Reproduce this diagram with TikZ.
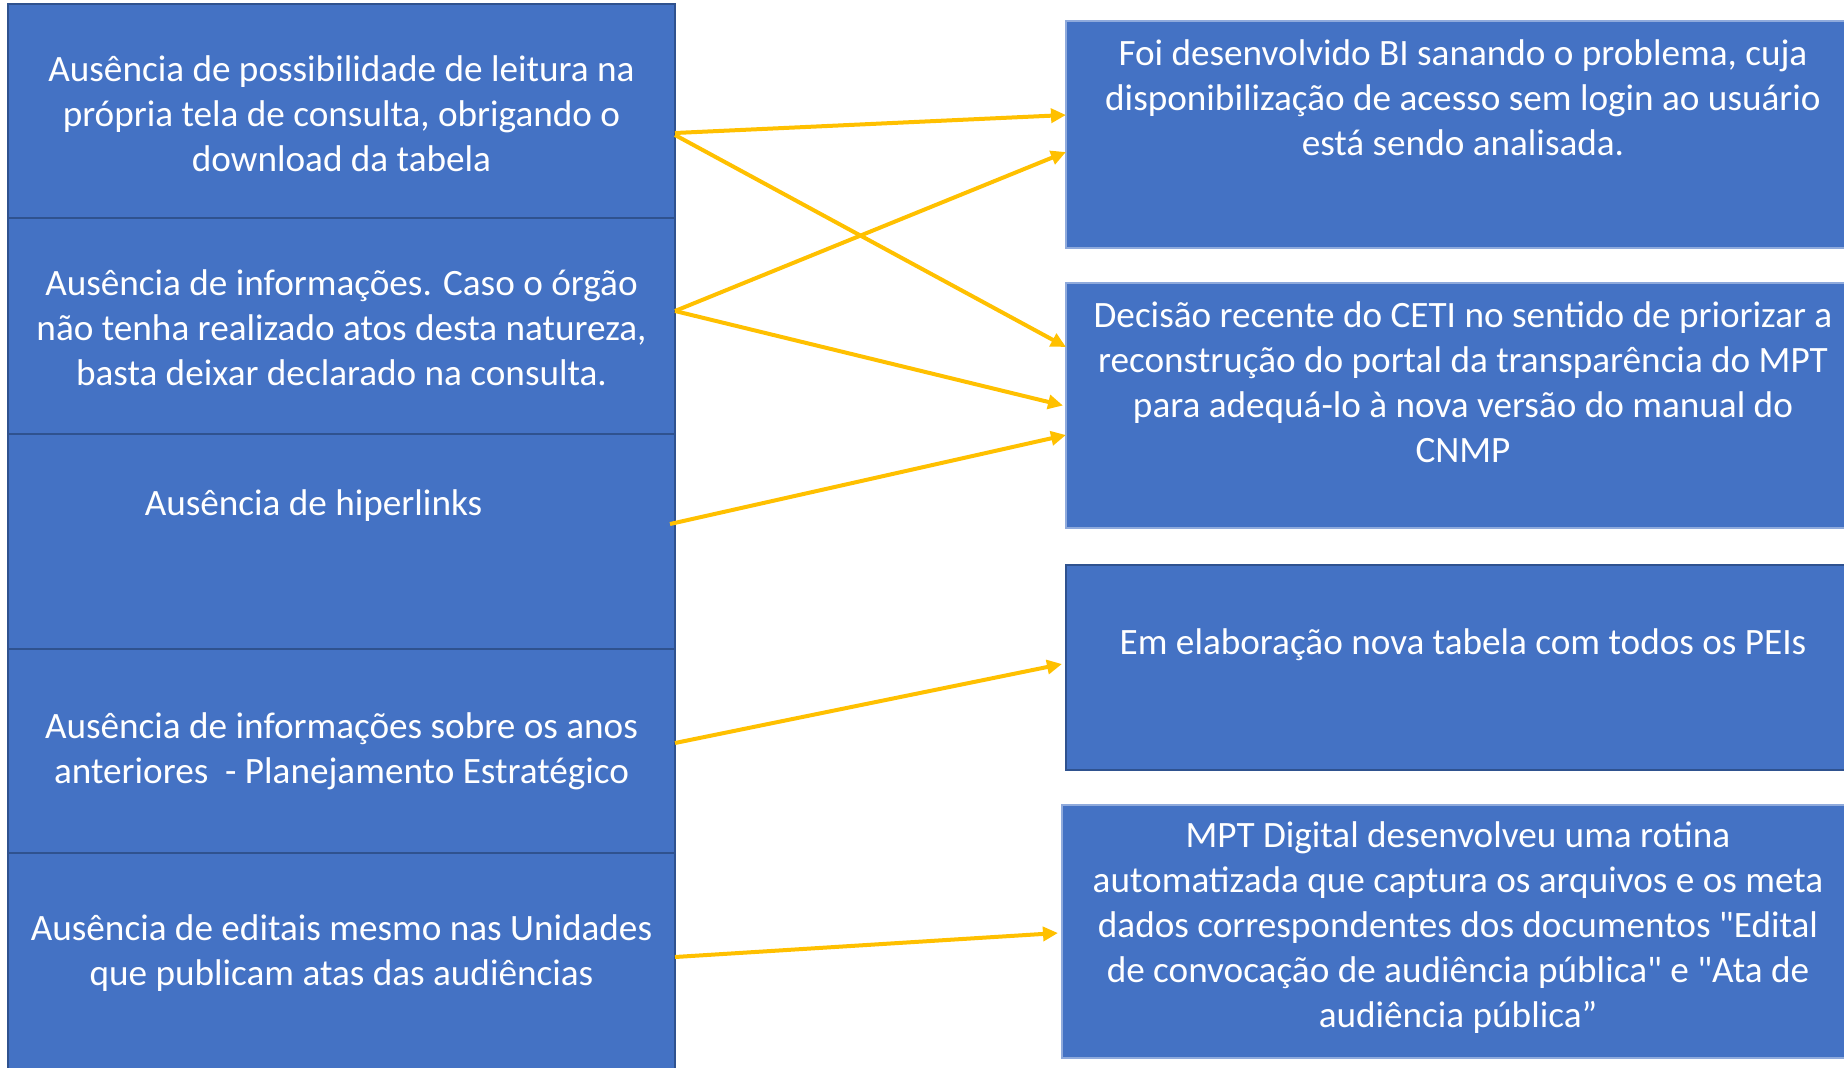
\documentclass[tikz,border=0pt]{standalone}
\usepackage{fontspec}
\setmainfont{Carlito}[Ligatures=TeXOff]
\usetikzlibrary{arrows.meta, positioning}
\definecolor{boxblue}{HTML}{4472C4}
\definecolor{borderblue}{HTML}{2F528F}
\definecolor{lightborder}{HTML}{8FAADC}
\definecolor{arrowyellow}{HTML}{FFC000}

\begin{document}
\begin{tikzpicture}[
    x=0.5pt, y=-0.5pt,
    every node/.style={font=\fontsize{18.6}{22.5}\selectfont},
    problem/.style={rectangle, draw=borderblue, line width=1.2pt, fill=boxblue,
                    minimum width=333.5pt, inner sep=0pt, outer sep=0pt},
    action/.style={rectangle, draw=lightborder, line width=0.6pt, fill=boxblue,
                   minimum width=392pt, inner sep=0pt, outer sep=0pt},
    boxtext/.style={text=white, align=center, inner sep=0pt},
    arrow/.style={-{Triangle[length=7.5pt, width=7pt]}, line width=2pt, draw=arrowyellow}
]

\useasboundingbox (0,0) rectangle (1844,1067);

% Problems (left column)
\node (p1) [problem, minimum height=107pt] at (341.5,111) {};
\node (p2) [problem, minimum height=108pt, below=0pt of p1] {};
\node (p3) [problem, minimum height=107.5pt, below=0pt of p2] {};
\node (p4) [problem, minimum height=102pt, below=0pt of p3] {};
\node (p5) [problem, minimum height=111pt, below=0pt of p4] {};

\node (t1) [boxtext] at ([yshift=-1.5pt]p1.center)
    {Ausência de possibilidade de leitura na\\própria tela de consulta, obrigando o\\download da tabela};
\node (t2) [boxtext] at ([yshift=-1pt]p2.center)
    {Ausência de informações. Caso o órgão\\não tenha realizado atos desta natureza,\\basta deixar declarado na consulta.};
\node (t3) [boxtext] at ([xshift=-14pt, yshift=18pt]p3.center) {Ausência de hiperlinks};
\node (t4) [boxtext] at ([yshift=0pt]p4.center)
    {Ausência de informações sobre os anos\\anteriores~ - Planejamento Estratégico};
\node (t5) [boxtext] at ([yshift=5.5pt]p5.center)
    {Ausência de editais mesmo nas Unidades\\que publicam atas das audiências};

% Actions (right column)
\node (s1) [action, minimum height=113.5pt] at (1458,134.5) {};
\node (s2) [action, minimum height=122.5pt, below=17.5pt of s1] {};
\node (s3) [action, draw=borderblue, line width=1.2pt, minimum height=102.5pt, below=18.5pt of s2] {};
\node (s4) [action, minimum width=394pt, minimum height=126.5pt, below=17.5pt of s3, xshift=-1pt] {};

\node (u1) [boxtext] at ([xshift=2.5pt, yshift=18.5pt]s1.center)
    {Foi desenvolvido BI sanando o problema, cuja\\disponibilização de acesso sem login ao usuário\\está sendo analisada.};
\node (u2) [boxtext] at ([xshift=2.5pt, yshift=11.5pt]s2.center)
    {Decisão recente do CETI no sentido de priorizar a\\reconstrução do portal da transparência do MPT\\para adequá-lo à nova versão do manual do\\CNMP};
\node (u3) [boxtext] at ([xshift=2.5pt, yshift=11.5pt]s3.center)
    {Em elaboração nova tabela com todos os PEIs};
\node (u4) [boxtext] at ([xshift=1pt, yshift=2pt]s4.center)
    {MPT Digital desenvolveu uma rotina\\automatizada que captura os arquivos e os meta\\dados correspondentes dos documentos "Edital\\de convocação de audiência pública" e "Ata de\\audiência pública”};

% Arrows
\draw [arrow] ([yshift=-11pt]p1.east) -- ([yshift=9.75pt]s1.west);
\draw [arrow] ([yshift=-12pt]p1.east) -- ([yshift=29.25pt]s2.west);
\draw [arrow] ([yshift=7.5pt]p2.east) -- ([yshift=-8.75pt]s1.west);
\draw [arrow] ([yshift=7.5pt]p2.east) -- ([xshift=-1.5pt]s2.west);
\draw [arrow] ([xshift=-2.5pt, yshift=8.75pt]p3.east) -- ([yshift=-14.75pt]s2.west);
\draw [arrow] ([yshift=4pt]p4.east) -- ([xshift=-2pt, yshift=1.75pt]s3.west);
\draw [arrow] ([yshift=3.5pt]p5.east) -- ([xshift=-2pt, yshift=-0.75pt]s4.west);

\end{tikzpicture}
\end{document}
